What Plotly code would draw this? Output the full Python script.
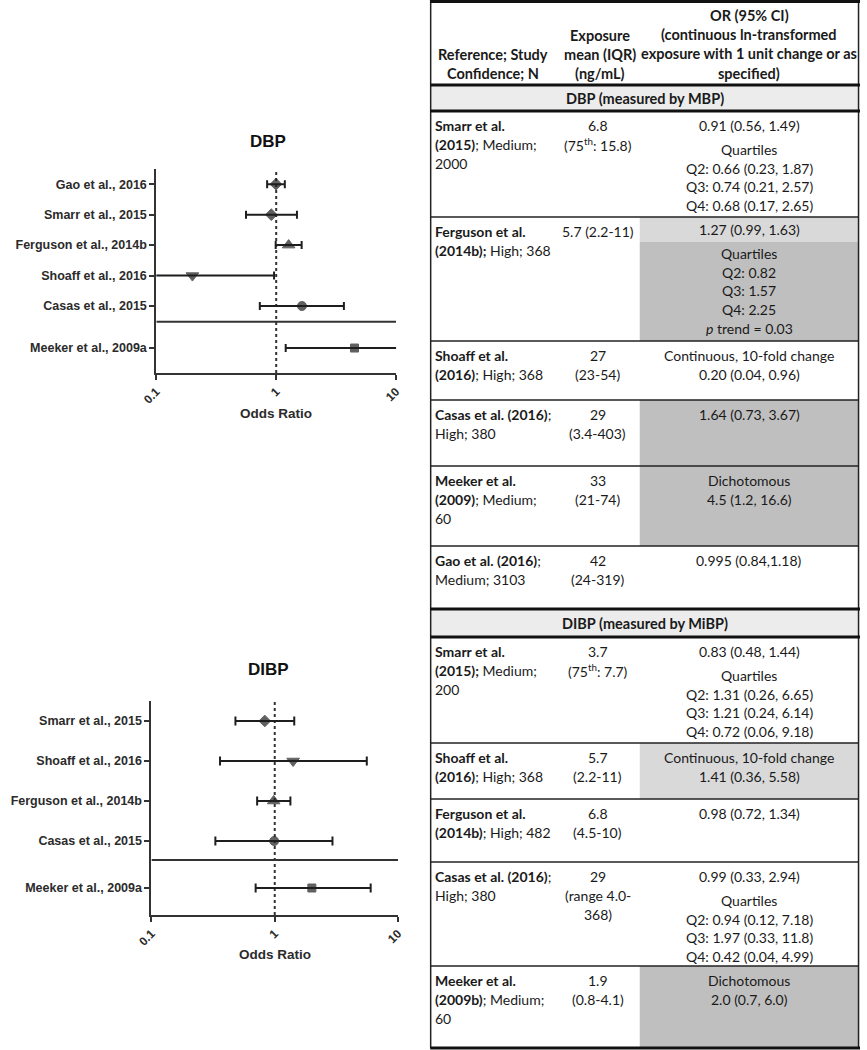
import plotly.graph_objects as go

W, H = 867, 1050

# ---------------- forest plot data ----------------
dbp_studies = ["Gao et al., 2016", "Smarr et al., 2015", "Ferguson et al., 2014b",
               "Shoaff et al., 2016", "Casas et al., 2015", "Meeker et al., 2009a"]
dbp_or = [0.995, 0.91, 1.27, 0.20, 1.64, 4.5]
dbp_lo = [0.84, 0.56, 0.99, 0.04, 0.73, 1.2]
dbp_hi = [1.18, 1.49, 1.63, 0.96, 3.67, 16.6]
dbp_symbols = ["diamond", "diamond", "triangle-up", "triangle-down", "circle", "square"]

dibp_studies = ["Smarr et al., 2015", "Shoaff et al., 2016", "Ferguson et al., 2014b",
                "Casas et al., 2015", "Meeker et al., 2009a"]
dibp_or = [0.83, 1.41, 0.98, 0.99, 2.0]
dibp_lo = [0.48, 0.36, 0.72, 0.33, 0.7]
dibp_hi = [1.44, 5.58, 1.34, 2.94, 6.0]
dibp_symbols = ["diamond", "triangle-down", "triangle-up", "circle", "square"]

x_ticks = [0.1, 1, 10]
x_ticktext = ["0.1", "1", "10"]

# layout positions of rows (row units) for the two forest plots
dbp_rowpos = [0, 1, 2, 3, 4, 5.38]
dbp_sep = 4.52
dbp_yrange = [6.2, -0.5]
dibp_rowpos = [0, 1, 2, 3, 4.175]
dibp_sep = 3.475
dibp_yrange = [4.85, -0.5]

SYM_SIZE = {"diamond": 9, "triangle-up": 11, "triangle-down": 11, "circle": 9, "square": 8}

# ---------------- table data ----------------
header_col1 = ["Reference; Study", "Confidence; N"]
header_col2 = ["Exposure", "mean (IQR)", "(ng/mL)"]
header_col3 = ["OR (95% CI)", "(continuous ln-transformed",
               "exposure with 1 unit change or as", "specified)"]

dbp_title = "DBP (measured by MBP)"
dbp_ref = [["<b>Smarr et al.</b>", "<b>(2015)</b>; Medium;", "2000"],
           ["<b>Ferguson et al.</b>", "<b>(2014b);</b> High; 368"],
           ["<b>Shoaff et al.</b>", "<b>(2016)</b>; High; 368"],
           ["<b>Casas et al. (2016)</b>;", "High; 380"],
           ["<b>Meeker et al.</b>", "<b>(2009)</b>; Medium;", "60"],
           ["<b>Gao et al. (2016)</b>;", "Medium; 3103"]]
dbp_exp = [["6.8", "(75<sup>th</sup>: 15.8)"],
           ["5.7 (2.2-11)"],
           ["27", "(23-54)"],
           ["29", "(3.4-403)"],
           ["33", "(21-74)"],
           ["42", "(24-319)"]]
dbp_orci = [["0.91 (0.56, 1.49)"],
            ["1.27 (0.99, 1.63)"],
            ["Continuous, 10-fold change", "0.20 (0.04, 0.96)"],
            ["1.64 (0.73, 3.67)"],
            ["Dichotomous", "4.5 (1.2, 16.6)"],
            ["0.995 (0.84,1.18)"]]
dbp_quart = [["Quartiles", "Q2: 0.66 (0.23, 1.87)", "Q3: 0.74 (0.21, 2.57)", "Q4: 0.68 (0.17, 2.65)"],
             ["Quartiles", "Q2: 0.82", "Q3: 1.57", "Q4: 2.25", "<i>p</i> trend = 0.03"],
             [], [], [], []]
dbp_shade = [None, ("light", "dark"), None, "dark", "dark", None]

dibp_title = "DIBP (measured by MiBP)"
dibp_ref = [["<b>Smarr et al.</b>", "<b>(2015);</b> Medium;", "200"],
            ["<b>Shoaff et al.</b>", "<b>(2016)</b>; High; 368"],
            ["<b>Ferguson et al.</b>", "<b>(2014b)</b>; High; 482"],
            ["<b>Casas et al. (2016)</b>;", "High; 380"],
            ["<b>Meeker et al.</b>", "<b>(2009b)</b>; Medium;", "60"]]
dibp_exp = [["3.7", "(75<sup>th</sup>: 7.7)"],
            ["5.7", "(2.2-11)"],
            ["6.8", "(4.5-10)"],
            ["29", "(range 4.0-", "368)"],
            ["1.9", "(0.8-4.1)"]]
dibp_orci = [["0.83 (0.48, 1.44)"],
             ["Continuous, 10-fold change", "1.41 (0.36, 5.58)"],
             ["0.98 (0.72, 1.34)"],
             ["0.99 (0.33, 2.94)"],
             ["Dichotomous", "2.0 (0.7, 6.0)"]]
dibp_quart = [["Quartiles", "Q2: 1.31 (0.26, 6.65)", "Q3: 1.21 (0.24, 6.14)", "Q4: 0.72 (0.06, 9.18)"],
              [], [], ["Quartiles", "Q2: 0.94 (0.12, 7.18)", "Q3: 1.97 (0.33, 11.8)", "Q4: 0.42 (0.04, 4.99)"],
              []]
dibp_shade = [None, "light", None, None, "dark"]

# table geometry (pixels)
tbl_l, tbl_r = 426, 866
col1_x, col2_cx, col3_l = 429, 598, 641
col3_cx = (col3_l + tbl_r) / 2
header_bottom = 85
dbp_head = (85, 111)
dbp_row_tops = [111, 217, 341, 400, 466, 546]
dbp_bottom = 609
dibp_head = (609, 637)
dibp_row_tops = [637, 743, 799, 862, 966]
dibp_bottom = 1048
LS = 18.8
FIRST = 14.5

SHADE = {"light": "#d9d9d9", "dark": "#bfbfbf", "band": "#ececec"}
TFONT = "Lato, Open Sans, sans-serif"
TCOL = "#1a1a1a"
PFONT = "Liberation Sans, Arial, sans-serif"
PCOL = "#2b2b2b"
MCOL = "#1e1e1e"


def px(x):
    return x / W


def py(y):
    return 1 - y / H


fig = go.Figure()
shapes = []
anns = []


def txt(x, y, s, anchor="center", size=14, family=TFONT, color=TCOL):
    anns.append(dict(x=px(x), y=py(y), xref="paper", yref="paper", text=s,
                     showarrow=False, xanchor=anchor, yanchor="middle",
                     font=dict(family=family, size=size, color=color)))


def rect(x0, y0, x1, y1, color):
    shapes.append(dict(type="rect", xref="paper", yref="paper", x0=px(x0), x1=px(x1),
                       y0=py(y1), y1=py(y0), fillcolor=color, line=dict(width=0), layer="below"))


def hline(y, x0, x1, w, color="#222"):
    shapes.append(dict(type="line", xref="paper", yref="paper", x0=px(x0), x1=px(x1),
                       y0=py(y), y1=py(y), line=dict(color=color, width=w)))


def vline(x, y0, y1, w, color="#222"):
    shapes.append(dict(type="line", xref="paper", yref="paper", x0=px(x), x1=px(x),
                       y0=py(y0), y1=py(y1), line=dict(color=color, width=w)))


# ---------------- forest plots ----------------
def forest(xa, ya, studies, orv, lo, hi, syms, rowpos, sep, yrange, xdom, ydom, capw):
    fig.add_trace(go.Scatter(
        x=[1, 1], y=yrange, mode="lines", xaxis=xa, yaxis=ya,
        line=dict(color="#333", width=2, dash="dot"), showlegend=False, hoverinfo="skip"))
    fig.add_trace(go.Scatter(
        x=orv, y=rowpos, mode="markers", xaxis=xa, yaxis=ya, showlegend=False,
        marker=dict(symbol=syms, size=[SYM_SIZE[s] for s in syms], color=MCOL,
                    line=dict(color=MCOL, width=1)),
        error_x=dict(type="data", symmetric=False,
                     array=[h - o for h, o in zip(hi, orv)],
                     arrayminus=[o - l for o, l in zip(orv, lo)],
                     color=MCOL, thickness=2, width=capw)))
    fig.add_trace(go.Scatter(
        x=[x_ticks[0], x_ticks[-1]], y=[sep, sep], mode="lines", xaxis=xa, yaxis=ya,
        line=dict(color="#333", width=2), showlegend=False, hoverinfo="skip"))
    xkey = "xaxis" + xa[1:]
    ykey = "yaxis" + ya[1:]
    fig.update_layout(**{
        xkey: dict(type="log", range=[-1, 1], domain=[px(xdom[0]), px(xdom[1])],
                   anchor=ya, showline=True, linewidth=2, linecolor="#333",
                   ticks="outside", ticklen=5, tickwidth=2, tickcolor="#333",
                   tickvals=x_ticks, ticktext=["<b>%s</b>" % t for t in x_ticktext],
                   tickangle=-45, tickfont=dict(family=PFONT, size=12, color=PCOL),
                   showgrid=False, zeroline=False),
        ykey: dict(range=yrange, domain=[py(ydom[1]), py(ydom[0])], anchor=xa,
                   showline=True, linewidth=2, linecolor="#333",
                   ticks="outside", ticklen=5, tickwidth=2, tickcolor="#333",
                   tickvals=rowpos, ticktext=["<b>%s</b>" % s for s in studies],
                   tickfont=dict(family=PFONT, size=12.5, color=PCOL),
                   showgrid=False, zeroline=False),
    })


forest("x", "y", dbp_studies, dbp_or, dbp_lo, dbp_hi, dbp_symbols, dbp_rowpos,
       dbp_sep, dbp_yrange, (145, 391), (169, 373), 4)
forest("x2", "y2", dibp_studies, dibp_or, dibp_lo, dibp_hi, dibp_symbols, dibp_rowpos,
       dibp_sep, dibp_yrange, (140, 393), (701, 915), 4.5)

txt(260, 141, "<b>DBP</b>", size=17, family=PFONT, color="#111")
txt(268, 413, "<b>Odds Ratio</b>", size=13.5, family=PFONT, color=PCOL)
txt(260, 669, "<b>DIBP</b>", size=17, family=PFONT, color="#111")
txt(267, 954, "<b>Odds Ratio</b>", size=13.5, family=PFONT, color=PCOL)

# ---------------- table ----------------
for i, s in enumerate(reversed(header_col1)):
    txt((tbl_l + 554) / 2, 73 - i * 18.8, "<b>%s</b>" % s, size=14.5)
for i, s in enumerate(reversed(header_col2)):
    txt(col2_cx + 2, 73 - i * 18.8, "<b>%s</b>" % s, size=14.5)
for i, s in enumerate(reversed(header_col3)):
    txt(col3_cx, 73 - i * 19.2, "<b>%s</b>" % s, size=14.5)


def section(title, head, tops, bottom, refs, exps, orcis, quarts, shades):
    rect(tbl_l, head[0], tbl_r, head[1], SHADE["band"])
    txt((tbl_l + tbl_r) / 2, (head[0] + head[1]) / 2 + 0.5, "<b>%s</b>" % title, size=14.5)
    edges = tops + [bottom]
    for r in range(len(tops)):
        top, bot = edges[r], edges[r + 1]
        sh = shades[r]
        first = top + FIRST
        if isinstance(sh, tuple):
            split = top + 25
            rect(col3_l, top, tbl_r, split, SHADE[sh[0]])
            rect(col3_l, split, tbl_r, bot, SHADE[sh[1]])
            or_first = (top + split) / 2
        else:
            if sh:
                rect(col3_l, top, tbl_r, bot, SHADE[sh])
            or_first = first
        for i, s in enumerate(refs[r]):
            txt(col1_x, first + i * LS, s, anchor="left")
        for i, s in enumerate(exps[r]):
            txt(col2_cx, first + i * LS, s)
        for i, s in enumerate(orcis[r]):
            txt(col3_cx, or_first + i * LS, s)
        q0 = or_first + len(orcis[r]) * LS + 5
        for i, s in enumerate(quarts[r]):
            txt(col3_cx, q0 + i * LS, s)
        if r > 0:
            hline(top, tbl_l, tbl_r, 1.4)


section(dbp_title, dbp_head, dbp_row_tops, dbp_bottom, dbp_ref, dbp_exp, dbp_orci, dbp_quart, dbp_shade)
section(dibp_title, dibp_head, dibp_row_tops, dibp_bottom, dibp_ref, dibp_exp, dibp_orci, dibp_quart, dibp_shade)

# borders
vline(tbl_l + 0.5, 0, dibp_bottom, 1.5)
vline(tbl_r - 0.5, 0, dibp_bottom, 1.5)
for y in [1.5, header_bottom, dbp_head[1], dibp_head[0], dibp_head[1], dibp_bottom]:
    hline(y, tbl_l, tbl_r + 1, 3, "#111")

fig.update_layout(width=W, height=H, autosize=False, margin=dict(l=0, r=0, t=0, b=0),
                  paper_bgcolor="white", plot_bgcolor="rgba(0,0,0,0)",
                  shapes=shapes, annotations=anns, showlegend=False)

fig.write_html(
    "out.html",
    config={"displayModeBar": False, "responsive": False},
    post_script=("document.documentElement.style.overflow='hidden';"
                 "document.body.style.margin='0px';document.body.style.overflow='hidden';"
                 "var d=document.getElementById('{plot_id}');"
                 "d.style.position='absolute';d.style.left='0px';d.style.top='0px';"),
)
